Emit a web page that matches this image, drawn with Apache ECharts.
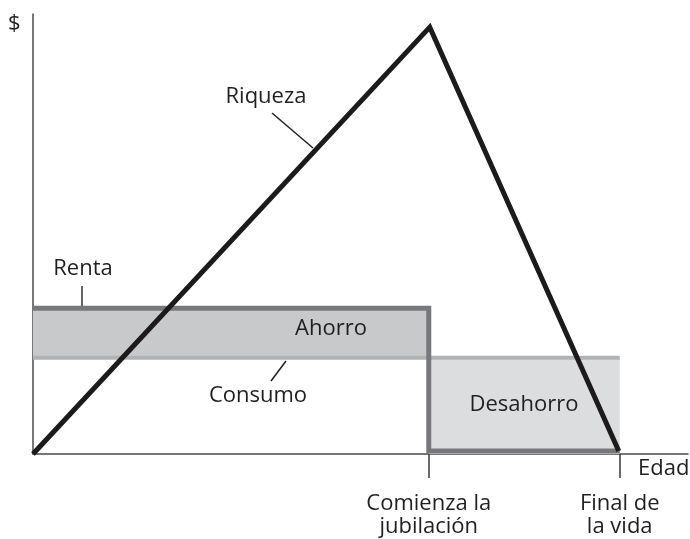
<!DOCTYPE html>
<html>
<head>
<meta charset="utf-8">
<script src="https://cdn.jsdelivr.net/npm/echarts@6/dist/echarts.min.js"></script>
<style>
  html, body { margin: 0; padding: 0; background: #fff; }
  #chart { width: 690px; height: 539px; }
</style>
</head>
<body>
<div id="chart"></div>
<script>
  // años de vida (unidades del dibujo) y $ (unidades relativas)
  var edadJubilacion = 40
  var edadFinal = 59.3
  var edadMax = 66.2
  var yMax = 302

  var renta = [[0, 100], [40, 100], [40, 2], [59.3, 2]]
  var consumo = [[0, 66], [59.3, 66]]
  var riqueza = [[0, 0], [40.1, 293], [59.2, 2]]

  var ticksEdad = [40, 59.3]
  var etiquetasEdad = ['Comienza la\njubilación', 'Final de\nla vida']

  var fuente = '"Open Sans", "DejaVu Sans", sans-serif'
  var colorTexto = '#1f1f1f'
  var tam = 22

  var chart = echarts.init(document.getElementById('chart'))

  var option = {
    animation: false,
    backgroundColor: '#fff',
    textStyle: { fontFamily: fuente },
    grid: { left: 33, right: 2, top: 14, bottom: 85 },
    xAxis: {
      type: 'value',
      min: 0,
      max: edadMax,
      axisLine: { show: true, onZero: false, lineStyle: { color: '#4a4a4a', width: 1.5 } },
      axisTick: {
        show: true,
        customValues: ticksEdad,
        length: 24,
        inside: false,
        lineStyle: { color: '#3a3a3a', width: 1.5 }
      },
      axisLabel: {
        show: true,
        customValues: ticksEdad,
        margin: 38,
        fontSize: tam,
        lineHeight: 23,
        color: colorTexto,
        fontFamily: fuente,
        align: 'center',
        formatter: function (v) {
          var i = ticksEdad.indexOf(v)
          return i >= 0 ? etiquetasEdad[i] : ''
        }
      },
      splitLine: { show: false }
    },
    yAxis: {
      type: 'value',
      min: 0,
      max: yMax,
      axisLine: { show: true, lineStyle: { color: '#4a4a4a', width: 1.5 } },
      axisTick: { show: false },
      axisLabel: { show: false },
      splitLine: { show: false }
    },
    series: [
      {
        // áreas de ahorro y desahorro
        type: 'line',
        data: [],
        silent: true,
        markArea: {
          silent: true,
          data: [
            [
              { coord: [0, consumo[0][1]], itemStyle: { color: '#c8c9cb' } },
              { coord: [edadJubilacion, renta[0][1]] }
            ],
            [
              { coord: [edadJubilacion, 0], itemStyle: { color: '#dcdddf' } },
              { coord: [edadFinal, consumo[1][1]] }
            ]
          ]
        }
      },
      {
        name: 'Consumo',
        type: 'line',
        data: consumo,
        symbol: 'none',
        lineStyle: { color: '#b1b2b4', width: 4 },
        z: 3
      },
      {
        name: 'Renta',
        type: 'line',
        data: renta,
        symbol: 'none',
        lineStyle: { color: '#77787b', width: 5, join: 'miter' },
        z: 4
      },
      {
        name: 'Riqueza',
        type: 'line',
        data: riqueza,
        symbol: 'none',
        lineStyle: { color: '#1c1a1b', width: 5, join: 'miter' },
        z: 5
      }
    ],
    graphic: [
      { type: 'text', left: 8, top: 13, style: { text: '$', font: tam + 'px ' + fuente, fill: colorTexto } },
      { type: 'text', left: 638, top: 458, style: { text: 'Edad', font: tam + 'px ' + fuente, fill: colorTexto } },
      { type: 'text', x: 266, y: 97, style: { text: 'Riqueza', font: tam + 'px ' + fuente, fill: colorTexto, align: 'center', verticalAlign: 'middle' } },
      { type: 'line', shape: { x1: 272, y1: 113, x2: 313, y2: 148 }, style: { stroke: '#222', lineWidth: 1.5 } },
      { type: 'text', x: 83, y: 269, style: { text: 'Renta', font: tam + 'px ' + fuente, fill: colorTexto, align: 'center', verticalAlign: 'middle' } },
      { type: 'line', shape: { x1: 82, y1: 286, x2: 82, y2: 306 }, style: { stroke: '#333', lineWidth: 1.5 } },
      { type: 'text', x: 331, y: 329, z: 10, style: { text: 'Ahorro', font: tam + 'px ' + fuente, fill: colorTexto, align: 'center', verticalAlign: 'middle' } },
      { type: 'text', x: 258, y: 396, style: { text: 'Consumo', font: tam + 'px ' + fuente, fill: colorTexto, align: 'center', verticalAlign: 'middle' } },
      { type: 'line', shape: { x1: 286, y1: 361, x2: 271, y2: 381 }, style: { stroke: '#222', lineWidth: 1.5 } },
      { type: 'text', x: 524, y: 405, z: 10, style: { text: 'Desahorro', font: tam + 'px ' + fuente, fill: colorTexto, align: 'center', verticalAlign: 'middle' } }
    ]
  }

  chart.setOption(option)
</script>
</body>
</html>
